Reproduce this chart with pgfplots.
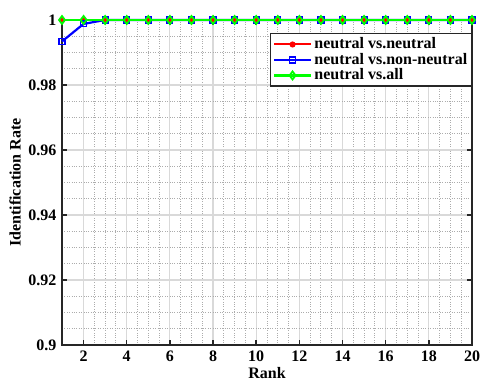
\documentclass[border=0pt]{standalone}
\usepackage{fontspec}
\setmainfont{Liberation Serif}
\usepackage{pgfplots}
\pgfplotsset{compat=1.18}
\usetikzlibrary{calc}
\begin{document}
\fontsize{16bp}{19bp}\selectfont\bfseries
\begin{tikzpicture}[x=1bp,y=1bp]
\begin{axis}[
  scale only axis,
  width=410bp, height=325bp,
  xmin=1, xmax=20, ymin=0.9, ymax=1,
  xtick={2,4,...,20},
  ytick={0.9,0.92,0.94,0.96,0.98,1},
  minor x tick num=3,
  minor y tick num=3,
  /pgf/number format/assume math mode=true,
  yticklabel style={/pgf/number format/fixed,/pgf/number format/precision=2},
  tick label style={font=\fontsize{16bp}{19bp}\selectfont\bfseries},
  label style={font=\fontsize{16bp}{19bp}\selectfont\bfseries},
  xlabel={Rank}, ylabel={Identification Rate},
  xlabel style={at={(axis description cs:0.5,-0.086)}, anchor=center},
  ylabel style={at={(axis description cs:-0.1146,0.5)}, anchor=center, rotate=0},
  grid=both,
  major grid style={gray!30, line width=1.2pt},
  minor grid style={gray!65, dotted, line width=1pt},
  axis line style={line width=1.5pt, black!85},
  tick style={line width=1.5pt, black!85},
  major tick length=5bp,
  minor tick length=0pt,
  tick align=inside,
  legend style={at={(rel axis cs:1,0.96)}, anchor=north east, draw=black!85, line width=1.5pt,
    font=\fontsize{16bp}{19bp}\selectfont\bfseries, row sep=-2bp, inner sep=2bp},
  legend cell align=left,
  legend image code/.code={\draw[mark repeat=2,mark phase=2] plot coordinates {(0cm,0cm)(0.65cm,0cm)(1.3cm,0cm)};},
  clip=false,
]
\addplot[red, line width=2pt, mark=*, mark size=2pt] coordinates {
(1,1)(2,1)(3,1)(4,1)(5,1)(6,1)(7,1)(8,1)(9,1)(10,1)(11,1)(12,1)(13,1)(14,1)(15,1)(16,1)(17,1)(18,1)(19,1)(20,1)};
\addlegendentry{neutral vs.neutral}
\addplot[blue, line width=2.2pt, mark=square, mark size=3pt, mark options={line width=1.2pt}] coordinates {
(1,0.9934)(2,0.9988)(3,1)(4,1)(5,1)(6,1)(7,1)(8,1)(9,1)(10,1)(11,1)(12,1)(13,1)(14,1)(15,1)(16,1)(17,1)(18,1)(19,1)(20,1)};
\addlegendentry{neutral vs.non-neutral}
\addplot[green, line width=2.8pt, mark=diamond, mark size=4pt, mark options={line width=1.8pt}] coordinates {
(1,1)(2,1)(3,1)(4,1)(5,1)(6,1)(7,1)(8,1)(9,1)(10,1)(11,1)(12,1)(13,1)(14,1)(15,1)(16,1)(17,1)(18,1)(19,1)(20,1)};
\addlegendentry{neutral vs.all}
\end{axis}
\pgfresetboundingbox
\path ($(current axis.south west)+(-62bp,-40bp)$) rectangle ($(current axis.north east)+(9bp,20bp)$);
\end{tikzpicture}
\end{document}
